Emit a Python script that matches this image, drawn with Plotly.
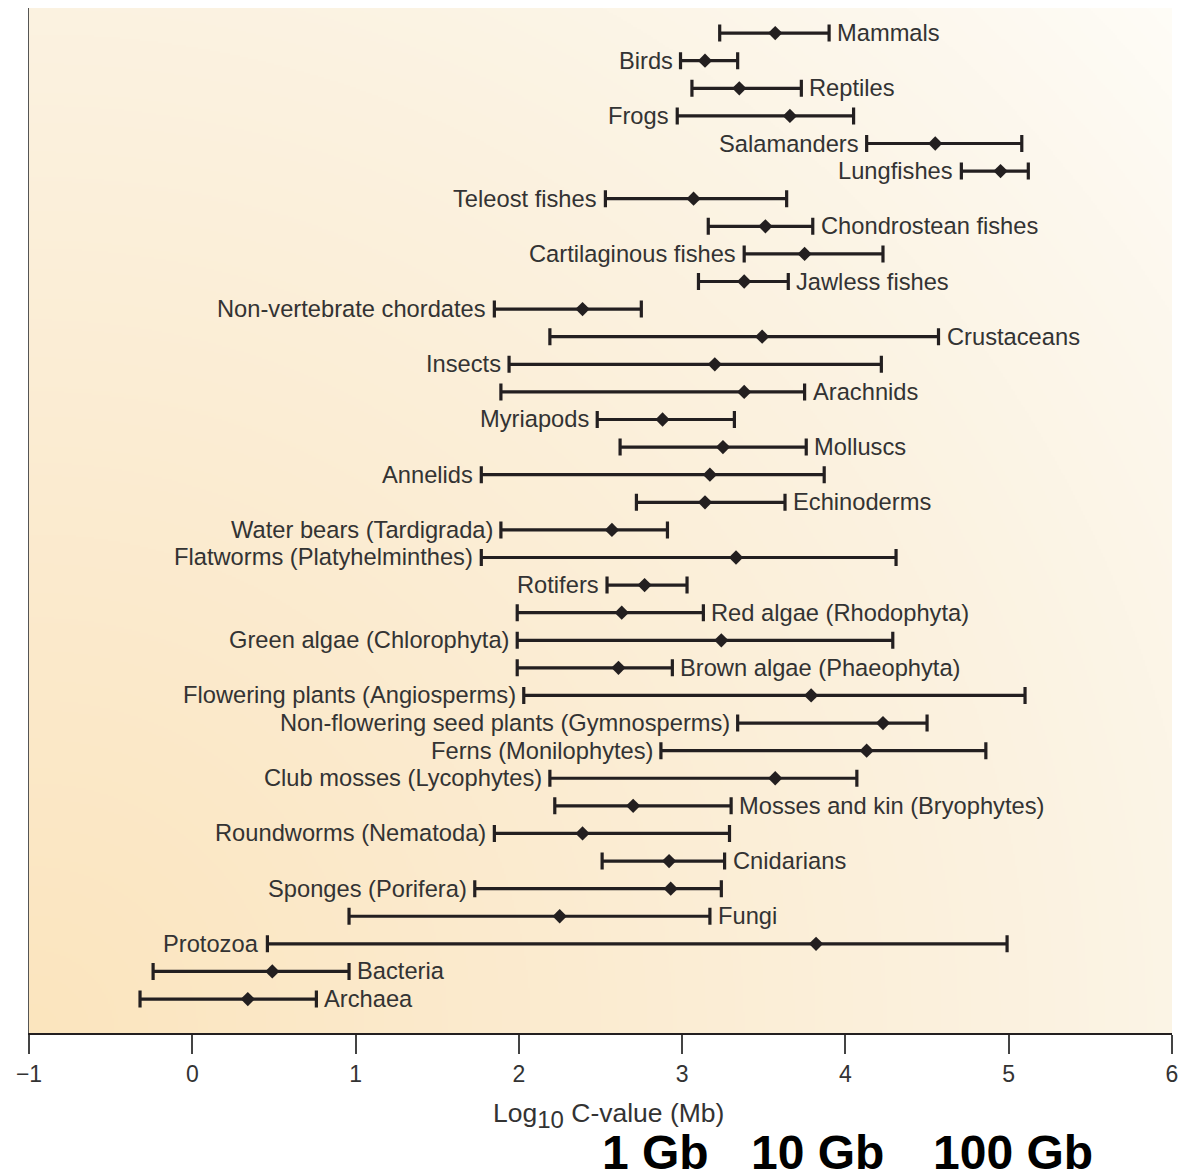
import base64
import struct
import zlib

import numpy as np
import plotly.graph_objects as go

# ---------------- data (log10 C-value, Mb) ----------------
groups = [
    "Mammals", "Birds", "Reptiles", "Frogs", "Salamanders", "Lungfishes",
    "Teleost fishes", "Chondrostean fishes", "Cartilaginous fishes", "Jawless fishes",
    "Non-vertebrate chordates", "Crustaceans", "Insects", "Arachnids", "Myriapods",
    "Molluscs", "Annelids", "Echinoderms", "Water bears (Tardigrada)",
    "Flatworms (Platyhelminthes)", "Rotifers", "Red algae (Rhodophyta)",
    "Green algae (Chlorophyta)", "Brown algae (Phaeophyta)",
    "Flowering plants (Angiosperms)", "Non-flowering seed plants (Gymnosperms)",
    "Ferns (Monilophytes)", "Club mosses (Lycophytes)", "Mosses and kin (Bryophytes)",
    "Roundworms (Nematoda)", "Cnidarians", "Sponges (Porifera)", "Fungi", "Protozoa",
    "Bacteria", "Archaea",
]
low = [3.23, 2.99, 3.06, 2.97, 4.13, 4.71, 2.53, 3.16, 3.38, 3.10,
       1.85, 2.19, 1.94, 1.89, 2.48, 2.62, 1.77, 2.72, 1.89, 1.77,
       2.54, 1.99, 1.99, 1.99, 2.03, 3.34, 2.87, 2.19, 2.22, 1.85,
       2.51, 1.73, 0.96, 0.46, -0.24, -0.32]
mid = [3.57, 3.14, 3.35, 3.66, 4.55, 4.95, 3.07, 3.51, 3.75, 3.38,
       2.39, 3.49, 3.20, 3.38, 2.88, 3.25, 3.17, 3.14, 2.57, 3.33,
       2.77, 2.63, 3.24, 2.61, 3.79, 4.23, 4.13, 3.57, 2.70, 2.39,
       2.92, 2.93, 2.25, 3.82, 0.49, 0.34]
high = [3.90, 3.34, 3.73, 4.05, 5.08, 5.12, 3.64, 3.80, 4.23, 3.65,
        2.75, 4.57, 4.22, 3.75, 3.32, 3.76, 3.87, 3.63, 2.91, 4.31,
        3.03, 3.13, 4.29, 2.94, 5.10, 4.50, 4.86, 4.07, 3.30, 3.29,
        3.26, 3.24, 3.17, 4.99, 0.96, 0.76]
label_side = ["R", "L", "R", "L", "L", "L", "L", "R", "L", "R",
              "L", "R", "L", "R", "L", "R", "L", "R", "L", "L",
              "L", "R", "L", "R", "L", "L", "L", "L", "R", "L",
              "R", "L", "R", "L", "R", "R"]
x_ticks = [-1, 0, 1, 2, 3, 4, 5, 6]
size_labels = ["1 Gb", "10 Gb", "100 Gb"]

INK = "#231f20"
TXT = "#333333"
FONT = "Liberation Sans, Arial, sans-serif"

# ---------------- background gradient image ----------------
def gradient_png(w, h, scale):
    xs = np.arange(w) * scale
    ys = np.arange(h) * scale
    X, Y = np.meshgrid(xs, ys)
    H = h * scale
    d = np.sqrt(X ** 2 + (H - Y) ** 2)
    stops_d = [0, 500, 1000, 1350, 1600]
    stops_c = np.array([[252, 229, 190], [251, 235, 207], [251, 242, 224],
                        [253, 248, 238], [255, 254, 250]], float)
    img = np.zeros((h, w, 3))
    for c in range(3):
        img[:, :, c] = np.interp(d, stops_d, stops_c[:, c])
    arr = np.clip(img, 0, 255).astype(np.uint8)
    raw = b"".join(b"\x00" + arr[r].tobytes() for r in range(h))

    def chunk(tag, data):
        return (struct.pack(">I", len(data)) + tag + data
                + struct.pack(">I", zlib.crc32(tag + data) & 0xFFFFFFFF))

    png = (b"\x89PNG\r\n\x1a\n"
           + chunk(b"IHDR", struct.pack(">IIBBBBB", w, h, 8, 2, 0, 0, 0))
           + chunk(b"IDAT", zlib.compress(raw, 9))
           + chunk(b"IEND", b""))
    return "data:image/png;base64," + base64.b64encode(png).decode()

bg_src = gradient_png(572, 513, 2)

# ---------------- figure ----------------
fig = go.Figure()
err_plus = [h - m for h, m in zip(high, mid)]
err_minus = [m - l for m, l in zip(mid, low)]

fig.add_trace(go.Scatter(
    x=mid, y=groups, mode="markers",
    marker=dict(symbol="diamond", size=11, color=INK),
    error_x=dict(type="data", symmetric=False, array=err_plus, arrayminus=err_minus,
                 color=INK, thickness=3.2, width=8.5),
    showlegend=False, hoverinfo="skip",
))

LABEL_FONT = dict(size=23.7, color=TXT, family=FONT)
annotations = []
for g, lo, hi, side in zip(groups, low, high, label_side):
    if side == "R":
        annotations.append(dict(x=hi, y=g, xref="x", yref="y", text=g, showarrow=False,
                                xanchor="left", yanchor="middle", xshift=6,
                                font=LABEL_FONT))
    else:
        annotations.append(dict(x=lo, y=g, xref="x", yref="y", text=g, showarrow=False,
                                xanchor="right", yanchor="middle", xshift=-6,
                                font=LABEL_FONT))

annotations.append(dict(x=0.5066, y=-0.08, xref="paper", yref="paper",
                        text="Log<sub><span style='font-size:24px'>10</span></sub> C-value (Mb)",
                        showarrow=False, xanchor="center", yanchor="middle",
                        font=dict(size=26.5, color=TXT, family=FONT)))
for txt, px in zip(size_labels, [0.5477, 0.690, 0.861]):
    annotations.append(dict(x=px, y=-0.117, xref="paper", yref="paper",
                            text="<b>" + txt + "</b>", showarrow=False,
                            xanchor="center", yanchor="middle",
                            font=dict(size=48, color="#000000", family=FONT)))

fig.update_layout(
    width=1183, height=1166,
    margin=dict(l=21, r=19, t=0, b=141),
    paper_bgcolor="white",
    plot_bgcolor="rgba(0,0,0,0)",
    annotations=annotations,
    images=[dict(source=bg_src, xref="paper", yref="paper", x=0, y=1,
                 sizex=1, sizey=1, sizing="stretch", layer="below")],
    xaxis=dict(range=[-1, 6], tickvals=x_ticks, ticks="outside", ticklen=19,
               tickwidth=1.5, tickcolor="#444444", showline=True, linewidth=2.2,
               linecolor=INK, showgrid=False, zeroline=False,
               tickfont=dict(size=23, color=TXT, family=FONT)),
    yaxis=dict(type="category", categoryorder="array", categoryarray=groups,
               range=[36.23, -0.91], showticklabels=False, ticks="",
               showline=True, linewidth=1.2, linecolor="#555555",
               showgrid=False, zeroline=False),
)

fig.write_html("out.html")
